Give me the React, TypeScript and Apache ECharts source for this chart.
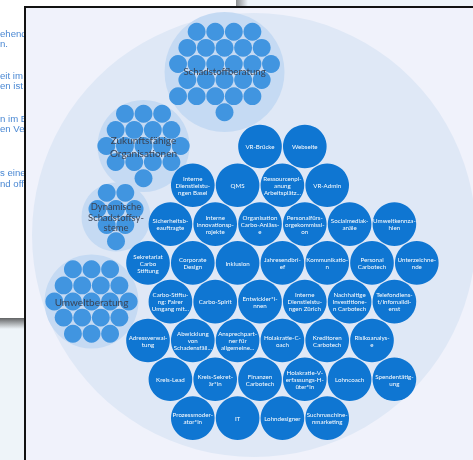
import React, { useEffect, useRef } from "react";
import * as echarts from "echarts";

// ---- Data -------------------------------------------------------------
// Roles of the anchor circle, arranged row by row in the hex grid of the view
const roleRows: string[][] = [
  ["VR-Brücke", "Webseite"],
  ["Interne Dienstleistungen Basel", "QMS", "Ressourcenplanung Arbeitsplätze", "VR-Admin"],
  ["Sicherheitsbeauftragte", "Interne Innovationsprojekte", "Organisation Carbo-Anlässe", "Personalfürsorgekommission", "Socialmediakanäle", "Umweltkennzahlen"],
  ["Sekretariat Carbo Stiftung", "Corporate Design", "Inklusion", "Jahresendbrief", "Kommunikation", "Personal Carbotech", "Unterzeichnende"],
  ["Carbo-Stiftung: Fairer Umgang mit Interessenkonflikten", "Carbo-Spirit", "Entwickler*innen", "Interne Dienstleistungen Zürich", "Nachhaltige Investitionen Carbotech", "Telefondienst/Infomaildienst"],
  ["Adressverwaltung", "Abwicklung von Schadensfällen", "Ansprechpartner für allgemeine Anfragen", "Holakratie-Coach", "Kreditoren Carbotech", "Risikoanalyse"],
  ["Kreis-Lead", "Kreis-Sekretär*in", "Finanzen Carbotech", "Holakratie-Verfassungs-Hüter*in", "Lohncoach", "Spendentätigung"],
  ["Prozessmoderator*in", "IT", "Lohndesigner", "Suchmaschinenmarketing"],
];
// first column (in grid columns) of each row
const roleRowStart = [2.5, 1, 0.5, 0, 0.5, 0, 0.5, 1];

// Sub-circles (centre and radius in the same grid units)
const subCircles = ["Schadstoffberatung", "Zukunftsfähige Organisationen", "Dynamische Schadstoffsysteme", "Umweltberatung"];
const subCircleX = [1.708, -0.1, -0.714, -1.261];
const subCircleY = [-1.663, -0.011, 1.574, 3.46];
const subCircleR = [1.339, 1.027, 0.77, 1.049];
// roles inside each sub-circle: count per row and first half-column per row
const subRoleCounts = [[4, 5, 6, 5, 5, 1], [3, 4, 5, 4, 1], [2, 3, 2, 1], [3, 4, 5, 4, 3]];
const subRoleStarts = [[2, 1, 0, 1, 0, 5], [2, 1, 0, 1, 4], [1, 0, 1, 2], [2, 1, 0, 1, 2]];

// Anchor circle
const anchorX = [2.366];
const anchorY = [1.975];
const anchorR = [4.955];

// Texts of the page behind the chart window
const pageTexts = ["ehende", "n.", "eit im", "en ist", "n im B", "en Ver", "s einer", "nd off"];

// ---- Styles / layout constants ----------------------------------------
const ROW_H = Math.sqrt(3) / 2;
const ROLE_R = 0.487;
const SUB_SPACING = 0.415;
const SUB_ROLE_R = 0.2;
const subLabelStyle: Record<string, { limit: number; fontSize: number; lineHeight: number }> = {
  "Schadstoffberatung": { limit: 20, fontSize: 9.6, lineHeight: 12 },
  "Zukunftsfähige Organisationen": { limit: 15, fontSize: 10, lineHeight: 13 },
  "Dynamische Schadstoffsysteme": { limit: 12, fontSize: 9.4, lineHeight: 10.4 },
  "Umweltberatung": { limit: 15, fontSize: 10, lineHeight: 12 },
};
const pageTextPos = [
  [0, 33], [0, 43.5], [0, 75], [0, 85], [0, 118], [0, 128.5], [0, 172], [0, 183],
];

function wrapLabel(name: string, limit: number, maxLines: number): string {
  const tokens: { t: string; hy: boolean }[] = [];
  for (const w of name.split(" ")) {
    const chars = Array.from(w);
    if (chars.length <= limit) tokens.push({ t: w, hy: false });
    else {
      for (let i = 0; i < chars.length; i += limit) {
        const chunk = chars.slice(i, i + limit).join("");
        const more = i + limit < chars.length;
        tokens.push({ t: more ? chunk + "-" : chunk, hy: more });
      }
    }
  }
  const lines: string[] = [];
  let cur = "";
  let prevHy = false;
  for (const tk of tokens) {
    if (cur === "") cur = tk.t;
    else if (prevHy) {
      lines.push(cur);
      cur = tk.t;
    } else if (Array.from(cur + " " + tk.t).length <= limit) cur = cur + " " + tk.t;
    else {
      lines.push(cur);
      cur = tk.t;
    }
    prevHy = tk.hy;
  }
  if (cur) lines.push(cur);
  if (lines.length > maxLines) {
    const kept = lines.slice(0, maxLines);
    kept[maxLines - 1] = kept[maxLines - 1].replace(/-$/, "") + "...";
    return kept.join("\n");
  }
  return lines.join("\n");
}

function textStyle(text: string, x: number, y: number, fill: string, fontSize: number, lineHeight: number, fontFamily: string) {
  return {
    text, x, y, fill, fontSize, lineHeight, fontFamily,
    align: "center", verticalAlign: "middle",
    textAlign: "center", textVerticalAlign: "middle",
  };
}

export default function App() {
  const ref = useRef<HTMLDivElement>(null);
  useEffect(() => {
    if (!ref.current) return;
    const chart = echarts.init(ref.current, null, { renderer: "svg" });

    const roleData: { name: string; x: number; y: number }[] = [];
    roleRows.forEach((row, r) => {
      row.forEach((name, i) => {
        roleData.push({ name, x: roleRowStart[r] + i, y: r * ROW_H });
      });
    });

    const graphic: any[] = [
      { type: "rect", z: 0, shape: { x: 0, y: 0, width: 473, height: 460 }, style: { fill: "#eef4f9" } },
      { type: "rect", z: 1, shape: { x: 0, y: 0, width: 236, height: 318 }, style: { fill: "#ffffff" } },
      {
        type: "rect", z: 1, shape: { x: 236, y: 0, width: 12, height: 326 },
        style: { fill: new echarts.graphic.LinearGradient(0, 0, 1, 0, [{ offset: 0, color: "rgba(60,60,60,0.55)" }, { offset: 1, color: "rgba(60,60,60,0)" }]) },
      },
      {
        type: "rect", z: 1, shape: { x: 0, y: 318, width: 240, height: 11 },
        style: { fill: new echarts.graphic.LinearGradient(0, 0, 0, 1, [{ offset: 0, color: "rgba(50,50,50,0.75)" }, { offset: 1, color: "rgba(60,60,60,0)" }]) },
      },
      ...pageTexts.map((t, i) => ({
        type: "text", z: 2, x: pageTextPos[i][0], y: pageTextPos[i][1],
        style: { text: t, fill: "#4a88d3", fontSize: 9.6, fontFamily: "Liberation Sans, Arial, sans-serif", textVerticalAlign: "middle", verticalAlign: "middle" },
      })),
      {
        type: "rect", z: 3, shape: { x: 25, y: 7, width: 470, height: 470 },
        style: { fill: "#f0f2fb", stroke: "#121212", lineWidth: 2 },
      },
    ];

    const option: any = {
      animation: false,
      grid: { left: 0, right: 0, top: 0, bottom: 0 },
      xAxis: { type: "value", min: -3.3036, max: 7.2545, show: false },
      yAxis: { type: "value", inverse: true, min: -3.2701, max: 6.9978, show: false },
      graphic,
      series: [
        {
          type: "custom", name: "anchor", coordinateSystem: "cartesian2d", z: 10, silent: true,
          data: anchorX.map((x, i) => [x, anchorY[i], anchorR[i]]),
          renderItem: (params: any, api: any) => {
            const c = api.coord([api.value(0), api.value(1)]);
            const r = api.size([api.value(2), 0])[0];
            return { type: "circle", shape: { cx: c[0], cy: c[1], r }, style: { fill: "#dfe8f6" } };
          },
        },
        {
          type: "custom", name: "subcircles", coordinateSystem: "cartesian2d", z: 11, silent: true,
          data: subCircles.map((n, i) => [subCircleX[i], subCircleY[i], subCircleR[i], i]),
          renderItem: (params: any, api: any) => {
            const idx = params.dataIndex;
            const cxv = api.value(0), cyv = api.value(1);
            const c = api.coord([cxv, cyv]);
            const r = api.size([api.value(2), 0])[0];
            const counts = subRoleCounts[idx];
            const starts = subRoleStarts[idx];
            const half = SUB_SPACING / 2;
            let minX = Infinity, maxX = -Infinity;
            counts.forEach((n, k) => {
              minX = Math.min(minX, starts[k] * half);
              maxX = Math.max(maxX, (starts[k] + 2 * (n - 1)) * half);
            });
            const maxY = (counts.length - 1) * SUB_SPACING * ROW_H;
            const offX = cxv - (minX + maxX) / 2;
            const offY = cyv - maxY / 2;
            const sr = api.size([SUB_ROLE_R, 0])[0];
            const children: any[] = [
              { type: "circle", shape: { cx: c[0], cy: c[1], r }, style: { fill: "#c5daf3" } },
            ];
            counts.forEach((n, k) => {
              for (let i = 0; i < n; i++) {
                const p = api.coord([offX + (starts[k] + 2 * i) * half, offY + k * SUB_SPACING * ROW_H]);
                children.push({ type: "circle", shape: { cx: p[0], cy: p[1], r: sr }, style: { fill: "#4195e0" } });
              }
            });
            const name = subCircles[idx];
            const st = subLabelStyle[name];
            children.push({
              type: "text",
              style: textStyle(wrapLabel(name, st.limit, 3), c[0], c[1], "#3a4354", st.fontSize, st.lineHeight, "Lato, 'Noto Sans', sans-serif"),
            });
            return { type: "group", children };
          },
        },
        {
          type: "custom", name: "roles", coordinateSystem: "cartesian2d", z: 12, silent: true,
          data: roleData.map((d) => [d.x, d.y]),
          renderItem: (params: any, api: any) => {
            const c = api.coord([api.value(0), api.value(1)]);
            const r = api.size([ROLE_R, 0])[0];
            const name = roleData[params.dataIndex].name;
            return {
              type: "group",
              children: [
                { type: "circle", shape: { cx: c[0], cy: c[1], r }, style: { fill: "#0f76d2" } },
                { type: "text", style: textStyle(wrapLabel(name, 12, 3), c[0], c[1] + 0.3, "#ffffff", 6.2, 7, "Lato, 'Noto Sans', sans-serif") },
              ],
            };
          },
        },
      ],
    };
    chart.setOption(option);
    return () => chart.dispose();
  }, []);

  return (
    <div
      ref={ref}
      style={{ position: "fixed", left: 0, top: 0, width: 473, height: 460 }}
    />
  );
}
